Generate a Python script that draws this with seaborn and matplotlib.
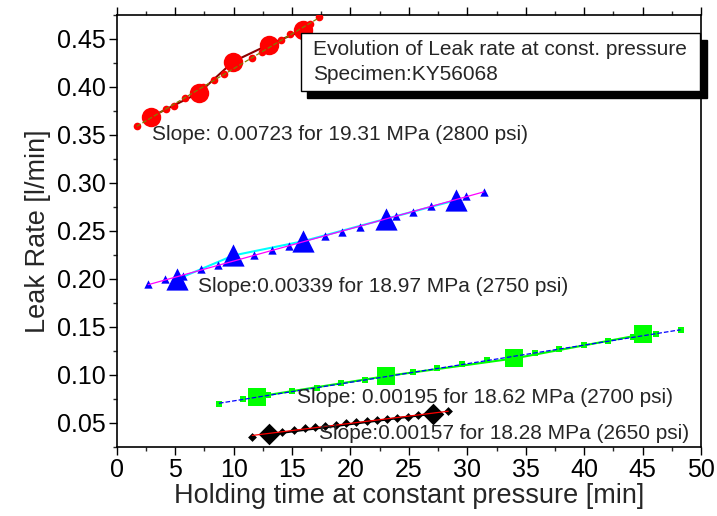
import numpy as np
import matplotlib
matplotlib.use("Agg")
import matplotlib.pyplot as plt
import matplotlib.patches as mpatches
from matplotlib.ticker import MultipleLocator
import seaborn as sns

# ---- data (time in min, leak rate in l/min) ----
# 19.31 MPa (2800 psi) - red
red_t_small = [1.71, 4.19, 4.90, 5.87, 7.41, 8.35, 9.15, 11.57, 12.40, 14.03, 14.85, 16.56, 17.33]
red_q_small = [0.3597, 0.3774, 0.3805, 0.3889, 0.4000, 0.4069, 0.4131, 0.4305, 0.4365, 0.4485, 0.4548, 0.4656, 0.4725]
red_t_big = [2.91, 7.04, 9.97, 13.0, 15.96]
red_q_big = [0.3687, 0.3938, 0.4264, 0.4440, 0.4590]

# 18.97 MPa (2750 psi) - blue
blue_t_small = [2.70, 4.13, 5.70, 7.19, 8.69, 11.74, 13.26, 14.76, 17.82, 19.30, 20.81, 23.87, 25.37, 26.89, 29.88, 31.42]
blue_q_small = [0.1941, 0.1993, 0.2034, 0.2097, 0.2139, 0.2243, 0.2298, 0.2340, 0.2447, 0.2492, 0.2544, 0.2652, 0.2701, 0.2756, 0.2860, 0.2909]
blue_t_big = [5.13, 9.97, 15.96, 23.04, 29.02]
blue_q_big = [0.1993, 0.2243, 0.2392, 0.2625, 0.2819]

# 18.62 MPa (2700 psi) - green
green_t_small = [8.75, 10.83, 12.97, 14.97, 17.11, 19.16, 21.24, 25.37, 27.43, 29.56, 31.65, 35.78, 37.86, 39.97, 42.05, 44.14, 46.19, 48.25]
green_q_small = [0.0698, 0.0743, 0.0784, 0.0826, 0.0865, 0.0909, 0.0944, 0.1027, 0.1066, 0.1108, 0.1149, 0.1225, 0.1266, 0.1308, 0.1347, 0.1392, 0.1427, 0.1469]
green_t_big = [12.03, 23.01, 34.01, 45.0]
green_q_big = [0.0771, 0.0985, 0.1170, 0.1420]

# 18.28 MPa (2650 psi) - black
black_t_small = [11.60, 14.17, 15.19, 16.11, 16.96, 17.84, 18.73, 19.62, 20.47, 21.39, 22.24, 23.15, 24.00, 24.89, 25.80, 28.37]
black_q_small = [0.0354, 0.0402, 0.0423, 0.0441, 0.0451, 0.0465, 0.0479, 0.0493, 0.0506, 0.0517, 0.0531, 0.0542, 0.0548, 0.0562, 0.0576, 0.0618]
black_t_big = [13.03, 27.08]
black_q_big = [0.0378, 0.0594]

slope_labels = [
    "Slope: 0.00723 for 19.31 MPa (2800 psi)",
    "Slope:0.00339 for 18.97 MPa (2750 psi)",
    "Slope: 0.00195 for 18.62 MPa (2700 psi)",
    "Slope:0.00157 for 18.28 MPa (2650 psi)",
]
box_lines = ["Evolution of Leak rate at const. pressure", "Specimen:KY56068"]

sns.set_style("white")
plt.rcParams["font.family"] = ["Liberation Sans", "DejaVu Sans"]

fig = plt.figure(figsize=(7.17, 5.16), dpi=100)
ax = fig.add_axes([0.1628, 0.1343, 0.8149, 0.8367])


def fit_line(t, q, color, ls, lw):
    k, b = np.polyfit(t, q, 1)
    tt = np.array([min(t), max(t)])
    sns.lineplot(x=tt, y=k * tt + b, color=color, linestyle=ls, linewidth=lw, ax=ax, zorder=4)


series = [
    # small t, small q, big t, big q, marker, color, small size, big size, join color, fit color, fit ls
    (red_t_small, red_q_small, red_t_big, red_q_big, "o", "red", 5.5, 14, "darkred", "olive", "--"),
    (blue_t_small, blue_q_small, blue_t_big, blue_q_big, "^", "blue", 6, 16, "cyan", "magenta", "-"),
    (green_t_small, green_q_small, green_t_big, green_q_big, "s", "lime", 5, 13, "lime", "blue", "--"),
    (black_t_small, black_q_small, black_t_big, black_q_big, "D", "black", 4.5, 11, "black", "red", "-"),
]

for ts, qs, tb, qb, mk, col, ss, sb, jc, fc, fls in series:
    sns.lineplot(x=tb, y=qb, color=jc, linewidth=1.5, sort=False, estimator=None, ax=ax, zorder=2)
    sns.scatterplot(x=ts, y=qs, marker=mk, color=col, s=ss ** 2, linewidth=0, ax=ax, zorder=3)
    sns.scatterplot(x=tb, y=qb, marker=mk, color=col, s=sb ** 2, linewidth=0, ax=ax, zorder=3)
    fit_line(ts, qs, fc, fls, 0.9)

# slope annotations
fs = 15
ax.text(3.02, 0.3503, slope_labels[0], fontsize=fs, va="center", ha="left", zorder=6)
ax.text(6.98, 0.1923, slope_labels[1], fontsize=fs, va="center", ha="left", zorder=6)
ax.text(15.4, 0.0760, slope_labels[2], fontsize=fs, va="center", ha="left", zorder=6)
ax.text(17.33, 0.0389, slope_labels[3], fontsize=fs, va="center", ha="left", zorder=6)

# title box with shadow
x0, x1, y0, y1 = 0.315, 0.998, 0.8246, 0.959
ax.add_patch(mpatches.Rectangle((x0 + 0.0115, y0 - 0.0178), x1 - x0, y1 - y0, transform=ax.transAxes,
                                facecolor="black", edgecolor="black", clip_on=False, zorder=7))
ax.add_patch(mpatches.Rectangle((x0, y0), x1 - x0, y1 - y0, transform=ax.transAxes,
                                facecolor="white", edgecolor="black", linewidth=1.0, clip_on=False, zorder=8))
ax.text(0.3365, 0.919, box_lines[0], transform=ax.transAxes, fontsize=fs, va="center", ha="left", zorder=9)
ax.text(0.3365, 0.861, box_lines[1], transform=ax.transAxes, fontsize=fs, va="center", ha="left", zorder=9)

ax.set_xlim(0, 50)
ax.set_ylim(0.025, 0.475)
ax.xaxis.set_major_locator(MultipleLocator(5))
ax.xaxis.set_minor_locator(MultipleLocator(2.5))
ax.yaxis.set_major_locator(MultipleLocator(0.05))
ax.yaxis.set_minor_locator(MultipleLocator(0.025))
ax.yaxis.set_major_formatter(matplotlib.ticker.FormatStrFormatter("%.2f"))
ax.tick_params(which="major", direction="out", length=6, width=1.0, labelsize=18, colors="black",
               bottom=True, left=True, top=True, right=False, labeltop=False, pad=2)
ax.tick_params(which="minor", direction="out", length=3, width=1.0, bottom=True, left=True, top=True, right=False)
for sp in ax.spines.values():
    sp.set_visible(True)
    sp.set_color("black")
    sp.set_linewidth(1.2)

ax.set_xlabel("Holding time at constant pressure [min]", fontsize=19.5, labelpad=1)
ax.set_ylabel("Leak Rate [l/min]", fontsize=19.5, labelpad=4)

fig.savefig("out.png", dpi=100)
